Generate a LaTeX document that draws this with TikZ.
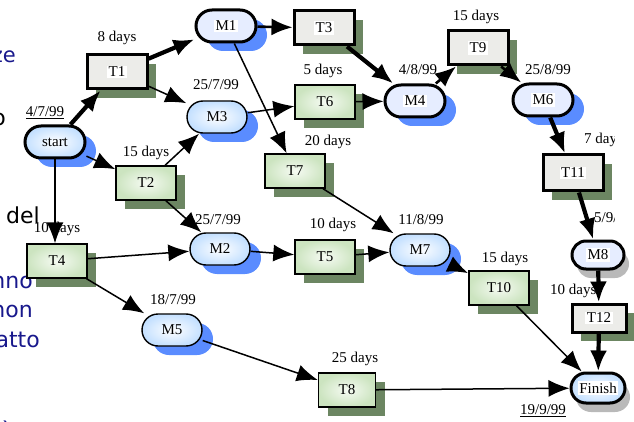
\documentclass[tikz,border=0pt]{standalone}
\usepackage{fontspec}
\setmainfont{Liberation Serif}
\newfontfamily\slidefont{DejaVu Sans}
\usetikzlibrary{arrows.meta,shadows}

\definecolor{taskgray}{RGB}{236,236,233}
\definecolor{taskgreen}{RGB}{204,228,192}
\definecolor{taskin}{RGB}{246,251,243}
\definecolor{msblue}{RGB}{196,224,255}
\definecolor{mslav}{RGB}{230,237,255}
\definecolor{shadowgreen}{RGB}{108,134,98}
\definecolor{shadowblue}{RGB}{90,140,255}
\definecolor{shadowgray}{RGB}{185,185,185}
\definecolor{slideblue}{RGB}{24,24,140}

\newcommand\lbl{\fontsize{15}{18}\selectfont}
\newcommand\wbox[1]{\colorbox{white}{#1}}
\setlength{\fboxsep}{1.5pt}

\tikzset{
  greenshadow/.style={drop shadow={shadow xshift=9pt,shadow yshift=-9pt,fill=shadowgreen,opacity=1}},
  blueshadow/.style={drop shadow={shadow xshift=11pt,shadow yshift=-9pt,fill=shadowblue,opacity=1}},
  grayshadow/.style={drop shadow={shadow xshift=5pt,shadow yshift=-9pt,fill=shadowgray,opacity=1}},
  box/.style={minimum width=60pt, minimum height=34pt, inner sep=2pt, font=\lbl},
  task/.style={box, draw, line width=1.4pt, inner color=taskin, outer color=taskgreen, greenshadow},
  crittask/.style={box, draw, line width=3pt, fill=taskgray, greenshadow},
  ms/.style={box, minimum height=32pt, rounded corners=16pt, draw, line width=1.4pt,
    inner color=white, outer color=msblue, #1},
  ms/.default=blueshadow,
  critms/.style={box, minimum height=32pt, rounded corners=16pt, draw, line width=3pt,
    fill=mslav, #1},
  critms/.default=blueshadow,
  days/.style={font=\lbl, inner sep=1pt},
  slide/.style={font=\slidefont\fontsize{22}{26}\selectfont, anchor=base east, inner sep=0pt},
  flow/.style={-{Latex[length=21pt,width=17pt]}, line width=1.5pt},
  midflow/.style={flow, line width=2.6pt},
  crit/.style={flow, line width=4.2pt}
}

\begin{document}
\begin{tikzpicture}[x=1pt,y=-1pt]
  \useasboundingbox (0,0) rectangle (634,422);
  \clip (0,0) rectangle (634,422);

  %slide text behind the chart
  \node[slide, slideblue, font=\slidefont\fontsize{21}{26}\selectfont] (s1) at (16,63) {ze};
  \node[slide] (s2) at (6,126) {o};
  \node[slide] (s3) at (40,223) {del};
  \node[slide, slideblue] (s4) at (33,288) {nno};
  \node[slide, slideblue] (s5) at (33,317) {non};
  \node[slide, slideblue] (s6) at (40,347) {atto};
  \node[slide, slideblue, anchor=base west] (s7) at (0,438) {è};

  %tasks
  \node[crittask] (T1) at (117,72) {\wbox{T1}};
  \node[task] (T2) at (146,183) {T2};
  \node[crittask] (T3) at (324,28) {\wbox{T3}};
  \node[task] (T4) at (57,261) {T4};
  \node[task] (T5) at (325,257) {T5};
  \node[task] (T6) at (325,102) {T6};
  \node[task] (T7) at (295,171) {T7};
  \node[task, minimum width=57pt] (T8) at (347,390) {T8};
  \node[crittask] (T9) at (478,48) {\wbox{T9}};
  \node[task] (T10) at (499,288) {T10};
  \node[crittask, minimum height=36pt] (T11) at (573,173) {\wbox{T11}};
  \node[crittask, minimum width=54pt, minimum height=28pt] (T12) at (599,318) {\wbox{T12}};

  %milestones
  \node[ms, line width=3pt] (start) at (55,142) {start};
  \node[critms] (M1) at (226,26) {\wbox{M1}};
  \node[ms] (M2) at (220,249) {M2};
  \node[ms] (M3) at (217,117) {M3};
  \node[critms] (M4) at (415,101) {\wbox{M4}};
  \node[ms] (M5) at (172,330) {M5};
  \node[critms] (M6) at (543,100) {\wbox{M6}};
  \node[ms] (M7) at (420,250) {M7};
  \node[critms=grayshadow, minimum width=52pt, minimum height=28pt, rounded corners=14pt] (M8) at (598,255) {\wbox{M8}};
  \node[ms=grayshadow, line width=3pt, minimum width=54pt, minimum height=30pt, rounded corners=15pt] (fin) at (598,388) {\wbox{Finish}};

  %dates and durations
  \node[days] (d0) at (45,113) {\underline{4/7/99}};
  \node[days] (t1) at (117,38) {8 days};
  \node[days] (t2) at (146,153) {15 days};
  \node[days] (d3) at (216,85) {25/7/99};
  \node[days] (t6) at (323,71) {5 days};
  \node[days] (d4) at (418,70) {4/8/99};
  \node[days] (t7) at (328,142) {20 days};
  \node[days] (t9) at (476,17) {15 days};
  \node[days] (d6) at (548,70) {25/8/99};
  \node[days] (t4) at (57,229) {10 days};
  \node[days] (d2) at (218,220) {25/7/99};
  \node[days] (d5) at (173,300) {18/7/99};
  \node[days] (t5) at (333,225) {10 days};
  \node[days] (d7) at (421,220) {11/8/99};
  \node[days] (t8) at (355,359) {25 days};
  \node[days] (t10) at (505,259) {15 days};
  \node[days, anchor=west] (t12) at (549,291) {10 days};
  \node[days] (dfin) at (543,411) {\underline{19/9/99}};
  \begin{scope}
    \clip (540,0) rectangle (614,240);
    \node[days, anchor=west] (t11) at (583,140) {7 days};
    \node[days, anchor=west] (d8) at (593,218) {5/9/99};
  \end{scope}

  %arrows
  \draw[crit] (start) -- (T1);
  \draw[crit] (T1) -- (M1);
  \draw[midflow] (M1) -- (T3);
  \draw[crit] (T3) -- (M4);
  \draw[midflow] (M4) -- (T9);
  \draw[midflow] (T9) -- (M6);
  \draw[crit] (M6) -- (T11);
  \draw[crit] (T11) -- (M8);
  \draw[crit] (M8) -- (T12);
  \draw[crit] (T12) -- (fin);

  \draw[flow] (T1) -- (M3);
  \draw[flow] (start) -- (T2);
  \draw[flow] (T2) -- (M3);
  \draw[flow] (start.south) -- (start.south |- T4.north);
  \draw[flow] (M3) -- (T6);
  \draw[flow] (T6) -- (M4);
  \draw[flow] (M1) -- (T7);
  \draw[flow] (T2) -- (M2);
  \draw[flow] (T4) -- (M2);
  \draw[flow] (T4) -- (M5);
  \draw[flow] (M2) -- (T5);
  \draw[flow] (T5) -- (M7);
  \draw[flow] (T7) -- (M7);
  \draw[midflow] (M7) -- (T10);
  \draw[flow] (T10) -- (fin);
  \draw[flow] (M5) -- (T8);
  \draw[flow] (T8) -- (fin);
\end{tikzpicture}
\end{document}
